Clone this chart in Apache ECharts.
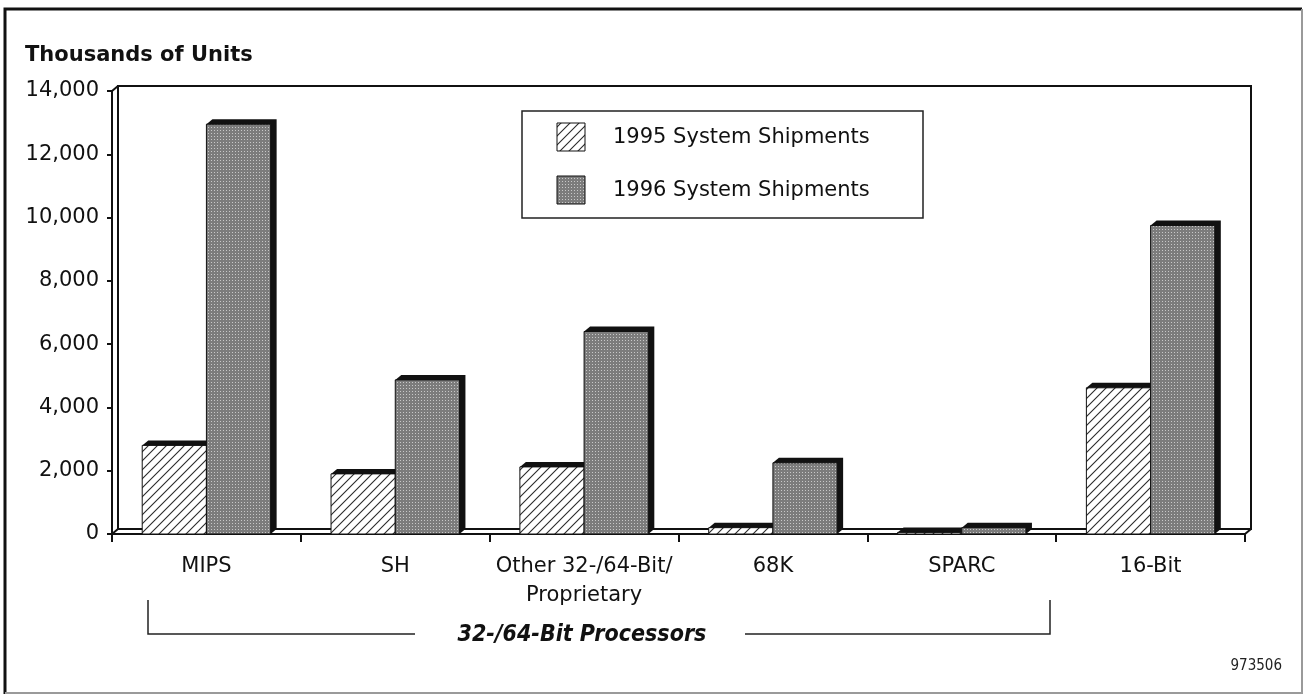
<!DOCTYPE html>
<html>
<head>
<meta charset="utf-8">
<script src="https://cdn.jsdelivr.net/npm/echarts@6/dist/echarts.min.js"></script>
<style>
html,body{margin:0;padding:0;background:#fff;}
#chart{width:1305px;height:695px;}
</style>
</head>
<body>
<div id="chart"></div>
<script>
// ---- data ----
const categories = ['MIPS', 'SH', 'Other 32-/64-Bit/\nProprietary', '68K', 'SPARC', '16-Bit'];
const shipments1995 = [2800, 1900, 2120, 200, 50, 4620];
const shipments1996 = [12950, 4870, 6400, 2250, 200, 9750];
const seriesNames = ['1995 System Shipments', '1996 System Shipments'];
const yTickValues = [0, 2000, 4000, 6000, 8000, 10000, 12000, 14000];
const yAxisTitle = 'Thousands of Units';
const groupLabel = '32-/64-Bit Processors';
const docId = '973506';

// ---- styles ----
const FONT = "'DejaVu Sans', sans-serif";
const FONT_COND = "'DejaVu Sans Condensed', 'DejaVu Sans', sans-serif";
const DX = 6, DY = 5;
const CAT_GAP = 0.32;

function makeHatch() {
  const c = document.createElement('canvas');
  c.width = 9; c.height = 9;
  const g = c.getContext('2d');
  g.fillStyle = '#fff'; g.fillRect(0, 0, 9, 9);
  g.strokeStyle = '#2a2a2a'; g.lineWidth = 1.1;
  g.beginPath();
  g.moveTo(0, 9); g.lineTo(9, 0);
  g.moveTo(-1, 1); g.lineTo(1, -1);
  g.moveTo(8, 10); g.lineTo(10, 8);
  g.stroke();
  return c;
}
function makeDots() {
  const c = document.createElement('canvas');
  c.width = 3; c.height = 3;
  const g = c.getContext('2d');
  g.fillStyle = '#7c7c7c'; g.fillRect(0, 0, 3, 3);
  g.fillStyle = '#c8c8c8'; g.fillRect(1, 1, 1, 1);
  return c;
}
const patterns = [
  { image: makeHatch(), repeat: 'repeat' },
  { image: makeDots(), repeat: 'repeat' }
];

function renderBar(sIdx) {
  return function (params, api) {
    const cat = api.value(0), val = api.value(1);
    const base = api.coord([cat, 0]);
    const top = api.coord([cat, val]);
    const band = api.size([1, 0])[0];
    const barW = band * (1 - CAT_GAP) / 2;
    const x0 = base[0] - barW + sIdx * barW;
    const x1 = x0 + barW;
    const yb = base[1], yt = top[1];
    return {
      type: 'group',
      children: [
        { type: 'polygon',
          shape: { points: [[x0, yt], [x0 + DX, yt - DY], [x1 + DX, yt - DY], [x1 + DX, yb - DY], [x1, yb]] },
          style: { fill: '#111' } },
        { type: 'rect',
          shape: { x: x0, y: yt, width: barW, height: yb - yt },
          style: { fill: patterns[sIdx], stroke: '#111', lineWidth: 1 } }
      ]
    };
  };
}

const chart = echarts.init(document.getElementById('chart'));
const GRID = { left: 112, right: 60, top: 91, bottom: 161 };

const option = {
  backgroundColor: '#fff',
  animation: false,
  title: {
    text: yAxisTitle, left: 25, top: 45, padding: 0,
    textStyle: { fontFamily: FONT, fontSize: 21, fontWeight: 'bold', color: '#111' }
  },
  grid: GRID,
  xAxis: {
    type: 'category',
    data: categories,
    boundaryGap: true,
    axisLine: { show: true, lineStyle: { color: '#111', width: 2 } },
    axisTick: { show: true, length: 8, lineStyle: { color: '#111', width: 2 } },
    axisLabel: { fontFamily: FONT, fontSize: 21, color: '#111', margin: 18, lineHeight: 29, interval: 0 },
    splitLine: { show: false }
  },
  yAxis: {
    type: 'value',
    min: yTickValues[0],
    max: yTickValues[yTickValues.length - 1],
    interval: yTickValues[1] - yTickValues[0],
    axisLine: { show: true, lineStyle: { color: '#111', width: 2 } },
    axisTick: { show: true, length: 5, lineStyle: { color: '#111', width: 2 } },
    axisLabel: { fontFamily: FONT, fontSize: 21, color: '#111', margin: 13,
      formatter: v => v.toLocaleString('en-US') },
    splitLine: { show: false }
  },
  series: [
    { type: 'custom', name: seriesNames[0], renderItem: renderBar(0), z: 3,
      encode: { x: 0, y: 1 }, data: shipments1995.map((v, i) => [i, v]) },
    { type: 'custom', name: seriesNames[1], renderItem: renderBar(1), z: 4,
      encode: { x: 0, y: 1 }, data: shipments1996.map((v, i) => [i, v]) }
  ]
};
chart.setOption(option);

// frame / decorations derived from the grid
const L = GRID.left, T = GRID.top, R = 1305 - GRID.right, B = 695 - GRID.bottom;
const lineStyle = { stroke: '#111', lineWidth: 2, fill: null };

const graphics = [
  // outer border
  { type: 'polyline', shape: { points: [[5, 694], [5, 9], [1302, 9]] }, style: { stroke: '#111', lineWidth: 3, fill: null }, z: 0 },
  { type: 'polyline', shape: { points: [[1302, 9], [1302, 693], [5, 693]] }, style: { stroke: '#9a9a9a', lineWidth: 2, fill: null }, z: 0 },
  // back wall + floor
  { type: 'polyline', shape: { points: [[L + DX, B - DY], [L + DX, T - DY], [R + DX, T - DY], [R + DX, B - DY], [L + DX, B - DY]] }, style: lineStyle, z: 0 },
  { type: 'line', shape: { x1: L, y1: T, x2: L + DX, y2: T - DY }, style: lineStyle, z: 0 },
  { type: 'line', shape: { x1: L, y1: B, x2: L + DX, y2: B - DY }, style: lineStyle, z: 0 },
  { type: 'line', shape: { x1: R, y1: B, x2: R + DX, y2: B - DY }, style: lineStyle, z: 0 },
  // legend
  { type: 'rect', shape: { x: 522, y: 111, width: 401, height: 107 }, style: { fill: '#fff', stroke: '#222', lineWidth: 1.5 }, z: 10 },
  { type: 'rect', shape: { x: 557, y: 123, width: 28, height: 28 }, style: { fill: patterns[0], stroke: '#111', lineWidth: 1 }, z: 11 },
  { type: 'rect', shape: { x: 557, y: 176, width: 28, height: 28 }, style: { fill: patterns[1], stroke: '#111', lineWidth: 1 }, z: 11 },
  { type: 'text', x: 613, y: 138, style: { text: seriesNames[0], fontFamily: FONT, fontSize: 21, fill: '#111', verticalAlign: 'middle', align: 'left' }, z: 11 },
  { type: 'text', x: 613, y: 191, style: { text: seriesNames[1], fontFamily: FONT, fontSize: 21, fill: '#111', verticalAlign: 'middle', align: 'left' }, z: 11 },
  // bracket
  { type: 'polyline', shape: { points: [[148, 600], [148, 634], [415, 634]] }, style: { stroke: '#222', lineWidth: 1.5, fill: null }, z: 0 },
  { type: 'polyline', shape: { points: [[745, 634], [1050, 634], [1050, 600]] }, style: { stroke: '#222', lineWidth: 1.5, fill: null }, z: 0 },
  { type: 'text', x: 582, y: 635, style: { text: groupLabel, fontFamily: FONT_COND, fontSize: 23, fontWeight: 'bold', fontStyle: 'italic', fill: '#111', align: 'center', verticalAlign: 'middle' }, z: 0 },
  { type: 'text', x: 1282, y: 666, style: { text: docId, fontFamily: FONT_COND, fontSize: 15, fill: '#222', align: 'right', verticalAlign: 'middle' }, z: 0 }
];
chart.setOption({ graphic: graphics });
</script>
</body>
</html>
